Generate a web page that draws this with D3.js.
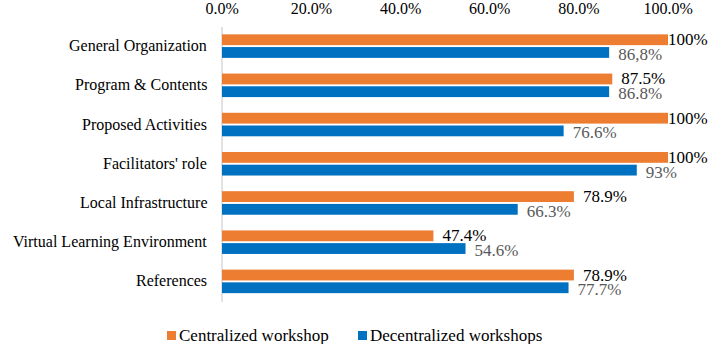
<!DOCTYPE html>
<html>
<head>
<meta charset="utf-8">
<script src="https://cdn.jsdelivr.net/npm/d3@7"></script>
<style>
  body { margin: 0; background: #fff; }
  #chart { position: relative; width: 708px; height: 344px; }
  #chart svg { position: absolute; left: 0; top: 0; }
</style>
</head>
<body>
<div id="chart"></div>
<script>
// Chart data
const categories = [
  "General Organization",
  "Program & Contents",
  "Proposed Activities",
  "Facilitators' role",
  "Local Infrastructure",
  "Virtual Learning Environment",
  "References"
];
const centralized = [100, 87.5, 100, 100, 78.9, 47.4, 78.9];
const decentralized = [86.8, 86.8, 76.6, 93, 66.3, 54.6, 77.7];
const centralizedLabels = ["100%", "87.5%", "100%", "100%", "78.9%", "47.4%", "78.9%"];
const decentralizedLabels = ["86,8%", "86.8%", "76.6%", "93%", "66.3%", "54.6%", "77.7%"];
const xTicks = [0, 0.2, 0.4, 0.6, 0.8, 1.0];
const seriesNames = ["Centralized workshop", "Decentralized workshops"];
const seriesColors = ["#ED7D31", "#0070C0"];

const width = 708, height = 344;

const chart = d3.select("#chart");
const svg = chart.append("svg")
  .attr("width", width)
  .attr("height", height);

// labels as html spans, font set inline
function addLabel(text, left, top, size, color, anchor) {
  const el = chart.append("span")
    .style("position", "absolute")
    .style("white-space", "nowrap")
    .style("line-height", "1")
    .style("font-family", "'Times New Roman'")
    .style("font-size", size + "px")
    .style("color", color)
    .text(text);
  const w = el.node().offsetWidth;
  const h = el.node().offsetHeight;
  let lx = left;
  if (anchor === "end") lx = left - w;
  else if (anchor === "middle") lx = left - w / 2;
  el.style("left", lx + "px").style("top", (top - h / 2) + "px");
  return { el, w };
}

// Scales
const x = d3.scaleLinear().domain([0, 1]).range([222, 668]);
const y = d3.scaleBand().domain(categories).range([26.5, 301]).paddingInner(0.4).paddingOuter(0.2);
const sub = d3.scaleBand().domain([0, 1]).range([0, y.bandwidth()]).paddingInner(0.15);

// Top axis (tick marks hidden, labels as html)
const fmt = d3.format(".1%");
const xAxis = svg.append("g")
  .attr("transform", "translate(0,18)")
  .call(d3.axisTop(x).tickValues(xTicks).tickFormat(fmt).tickSize(0));
xAxis.select(".domain").remove();
xAxis.selectAll("text").remove();
xTicks.forEach(t => addLabel(fmt(t), x(t), 9, 16, "#000", "middle"));

// Category axis line
svg.append("line")
  .attr("x1", x(0)).attr("x2", x(0))
  .attr("y1", 27).attr("y2", 302)
  .attr("stroke", "#D9D9D9")
  .attr("stroke-width", 1.5);

// Category labels
categories.forEach(c => {
  addLabel(c, 207, y(c) + y.bandwidth() / 2, 16, "#000", "end");
});

// Bars
const series = [centralized, decentralized];
const labels = [centralizedLabels, decentralizedLabels];
const labelColors = ["#000", "#595959"];
const labelShift = [0, 2];

series.forEach((vals, si) => {
  svg.append("g").selectAll("rect")
    .data(vals)
    .enter().append("rect")
    .attr("x", x(0))
    .attr("y", (d, i) => y(categories[i]) + sub(si))
    .attr("width", d => x(d / 100) - x(0))
    .attr("height", sub.bandwidth())
    .attr("fill", seriesColors[si]);

  vals.forEach((d, i) => {
    const cy = y(categories[i]) + sub(si) + sub.bandwidth() / 2 + labelShift[si];
    const lab = addLabel(labels[si][i], x(d / 100) + 9, cy, 17, labelColors[si], "start");
    const lx = Math.min(x(d / 100) + 9, width - lab.w);
    lab.el.style("left", lx + "px");
  });
});

// Legend
const legendX = [167, 358];
seriesNames.forEach((name, i) => {
  svg.append("rect")
    .attr("x", legendX[i])
    .attr("y", 331)
    .attr("width", 9)
    .attr("height", 9)
    .attr("fill", seriesColors[i]);
  addLabel(name, legendX[i] + 12, 335, 17, "#000", "start");
});
</script>
</body>
</html>
